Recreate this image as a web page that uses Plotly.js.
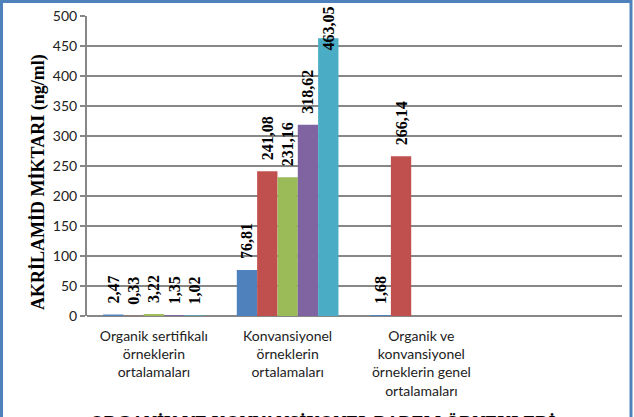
<!DOCTYPE html>
<html>
<head>
<meta charset="utf-8">
<script src="https://cdn.plot.ly/plotly-3.0.1.min.js"></script>
<style>html,body{margin:0;padding:0;background:#fff;}#chart{width:634px;height:417px;}</style>
</head>
<body>
<div id="chart"></div>
<script>
const categories = [
  "Organik sertifikalı<br>örneklerin<br>ortalamaları",
  "Konvansiyonel<br>örneklerin<br>ortalamaları",
  "Organik ve<br>konvansiyonel<br>örneklerin genel<br>ortalamaları"
];
const series1 = [2.47, 76.81, 1.68];
const series2 = [0.33, 241.08, 266.14];
const series3 = [3.22, 231.16, null];
const series4 = [1.35, 318.62, null];
const series5 = [1.02, 463.05, null];
const yTicks = [0, 50, 100, 150, 200, 250, 300, 350, 400, 450, 500];
const yTitle = "AKRİLAMİD MİKTARI (ng/ml)";
const xTitle = "ORGANİK VE KONVANSİYONEL BADEM ÖRNEKLERİ";

const colors = ["#4F81BD", "#C0504D", "#9BBB59", "#8064A2", "#4BACC6"];
const allSeries = [series1, series2, series3, series4, series5];

const L = 87, R = 12, T = 16, B = 101, W = 634, H = 417;
const pw = W - L - R, ph = H - T - B;
const px2x = p => (p - L) / pw;
const py2y = p => (H - B - p) / ph;
const nCatSlots = 4, bargap = 0.24;
const barWidthPx = pw / nCatSlots * (1 - bargap) / allSeries.length;
const yMax = 500;

const labelFont = {family: "Liberation Serif", size: 16, color: "#000", weight: "bold"};
const fmt = v => v.toFixed(2).replace(".", ",");

// labels that would run past the top of the chart are drawn as annotations, pulled down into the bar (as in the reference)
const overflowLimit = 440;
const extraAnnotations = [];

const traces = allSeries.map((s, i) => {
  const tmpl = s.map((v, j) => {
    if (v !== null && v > overflowLimit) {
      extraAnnotations.push({
        text: fmt(v), x: categories[j], y: v, xref: "x", yref: "y",
        xshift: (i - (allSeries.length - 1) / 2) * barWidthPx,
        yshift: -14, yanchor: "bottom", xanchor: "center",
        textangle: -90, showarrow: false, font: labelFont
      });
      return "";
    }
    return "\u00a0\u00a0%{y:.2f}";
  });
  return {
    type: "bar",
    x: categories,
    y: s,
    marker: {color: colors[i], line: {width: 0}},
    texttemplate: tmpl,
    textposition: "outside",
    textangle: -90,
    constraintext: "none",
    cliponaxis: false,
    textfont: labelFont,
    hoverinfo: "skip",
    showlegend: false
  };
});

const layout = {
  width: W, height: H,
  margin: {l: L, r: R, t: T, b: B, pad: 0},
  paper_bgcolor: "#fff",
  plot_bgcolor: "#fff",
  separators: ",.",
  barmode: "group",
  bargap: bargap,
  bargroupgap: 0,
  showlegend: false,
  xaxis: {
    type: "category",
    range: [-0.5, nCatSlots - 0.5],
    showgrid: false,
    showline: false,
    zeroline: false,
    ticks: "",
    tickfont: {family: "Lato", size: 14, color: "#222"},
    ticklabelstandoff: 10,
    fixedrange: true
  },
  yaxis: {
    range: [0, yMax],
    tickvals: yTicks,
    ticktext: yTicks.map(String),
    showgrid: true,
    gridcolor: "#878787",
    gridwidth: 2,
    showline: true,
    linecolor: "#878787",
    linewidth: 2,
    zeroline: true,
    zerolinecolor: "#878787",
    zerolinewidth: 2,
    ticks: "outside",
    ticklen: 5,
    tickwidth: 2,
    tickcolor: "#878787",
    tickfont: {family: "Lato", size: 14, color: "#222"},
    fixedrange: true
  },
  annotations: [
    {
      text: yTitle, xref: "paper", yref: "paper",
      x: px2x(38), y: py2y(182), xanchor: "center", yanchor: "middle",
      textangle: -90, showarrow: false,
      font: {family: "Liberation Serif", size: 18, color: "#000", weight: "bold"}
    },
    {
      text: xTitle, xref: "paper", yref: "paper",
      x: px2x(322), y: py2y(410.5), xanchor: "center", yanchor: "top",
      showarrow: false,
      font: {family: "Liberation Serif", size: 18, color: "#000", weight: "bold"}
    }
  ].concat(extraAnnotations),
  shapes: [
    {
      type: "rect", xref: "paper", yref: "paper",
      x0: px2x(1.5), x1: px2x(631), y0: py2y(440), y1: py2y(1.5),
      line: {color: "#4F81BD", width: 3}, fillcolor: "rgba(0,0,0,0)", layer: "above"
    }
  ]
};

Plotly.newPlot("chart", traces, layout, {displayModeBar: false, staticPlot: true});
</script>
</body>
</html>
